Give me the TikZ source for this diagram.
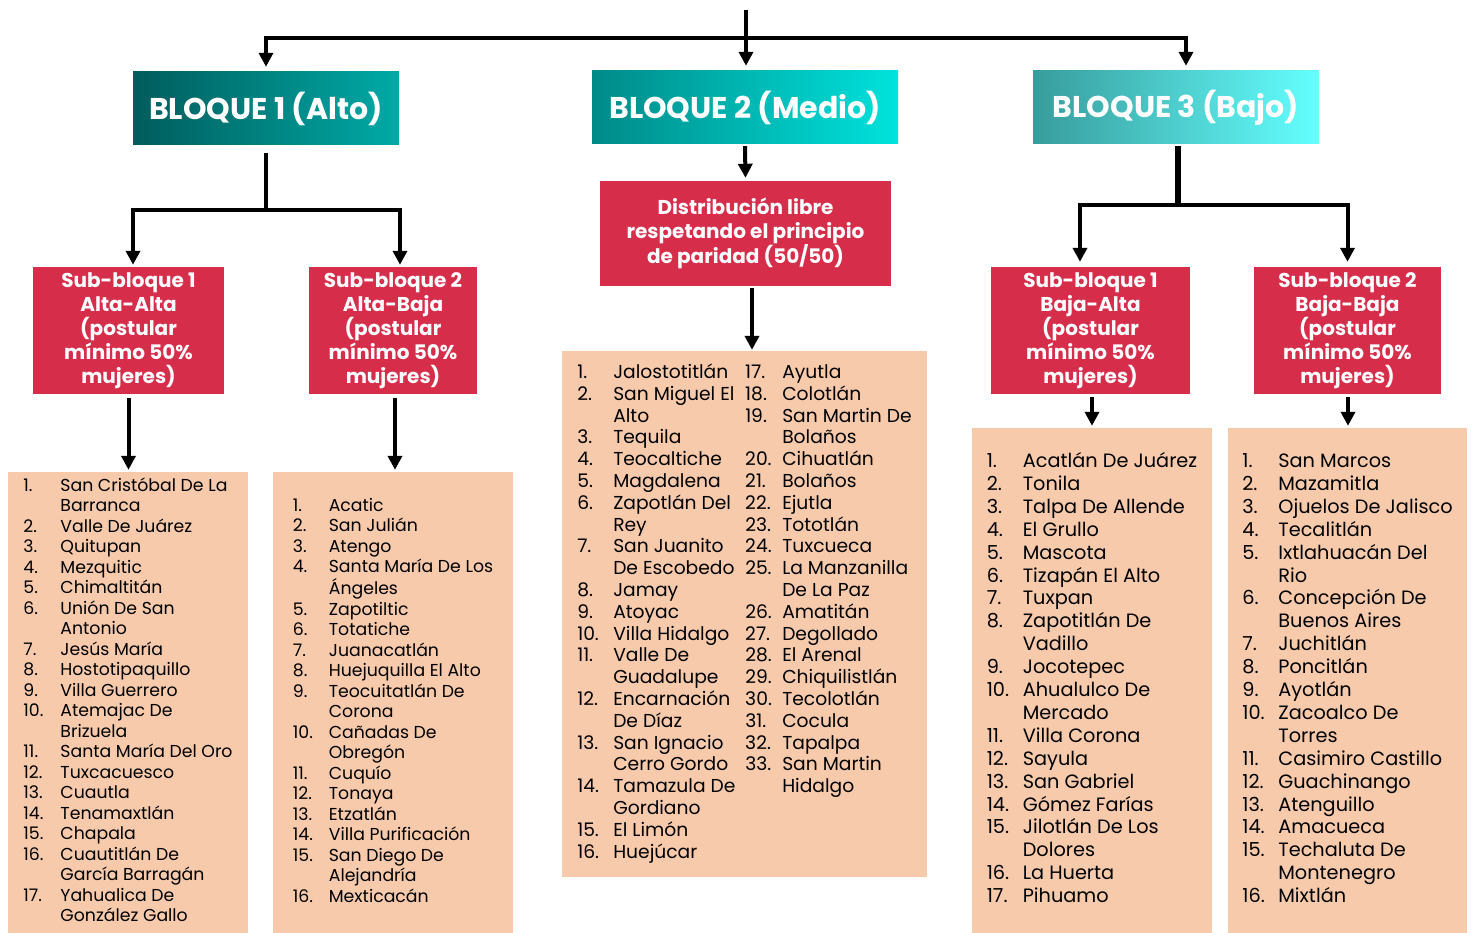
\documentclass[tikz,border=0pt]{standalone}
\usepackage{fontspec}
\setmainfont{Poppins}
\usepackage{xcolor}
\usepackage{array}
\usetikzlibrary{arrows.meta}
\definecolor{rojo}{RGB}{214,46,74}
\definecolor{durazno}{RGB}{247,202,172}
\definecolor{tealA}{RGB}{0,92,92}
\definecolor{tealB}{RGB}{0,170,166}
\definecolor{tealC}{RGB}{0,138,136}
\definecolor{tealD}{RGB}{0,226,220}
\definecolor{tealE}{RGB}{56,156,156}
\definecolor{tealF}{RGB}{100,255,255}
\tikzset{arrow/.style={draw,-{Triangle[width=14pt,length=14pt]},line width=4pt,#1}}
\tikzset{arrow/.default={black}}
\tikzset{linea/.style={draw,line width=4pt}}
\tikzset{bloque/.style={minimum height=73pt,inner sep=0pt,text=white,font={\fontsize{30pt}{34pt}\selectfont\bfseries}}}
\tikzset{sub/.style={fill=rojo,minimum height=127pt,inner sep=0pt,text=white,align=center,font={\fontsize{20pt}{24pt}\selectfont\bfseries}}}
\tikzset{lista/.style={fill=durazno,inner sep=0pt,font={\fontsize{17.3pt}{20.5pt}\selectfont}}}
\tikzset{listm/.style={lista,font={\fontsize{18.7pt}{21.8pt}\selectfont}}}
\tikzset{listb/.style={lista,font={\fontsize{19.3pt}{22.9pt}\selectfont}}}

\begin{document}
\begin{tikzpicture}[x=1pt,y=-1pt]
    \fill[white] (0,0) rectangle (1473,933);
    \useasboundingbox (0,0) rectangle (1473,933);
    % bloques
    \node[bloque,minimum width=266pt,left color=tealA,right color=tealB] (b1) at (266,108.5) {BLOQUE 1 (Alto)};
    \node[bloque,minimum width=306pt,left color=tealC,right color=tealD] (b2) at (745,107.5) {BLOQUE 2 (Medio)};
    \node[bloque,minimum width=286pt,left color=tealE,right color=tealF] (b3) at (1176,107.5) {BLOQUE 3 (Bajo)};
    \coordinate (entrada) at (746,10);
    \coordinate (j0) at (746,38);
    \path[linea] (entrada) -- (j0);
    \path[arrow,shorten >=5pt] (j0) -| (b1.north);
    \path[arrow,shorten >=5pt] (j0) -- (j0 |- b2.north);
    \path[arrow,shorten >=5pt] (j0) -| ([xshift=10pt]b3.north);
    % sub-bloques
    \node[sub,minimum width=191pt] (s11) at (128.5,330.5) {Sub-bloque 1\\Alta-Alta\\(postular\\mínimo 50\%\\mujeres)};
    \node[sub,minimum width=168pt] (s12) at (393,330.5) {Sub-bloque 2\\Alta-Baja\\(postular\\mínimo 50\%\\mujeres)};
    \node[sub,minimum width=291pt,minimum height=105pt] (d2) at (745.5,233.5) {Distribución libre\\respetando el principio\\de paridad (50/50)};
    \node[sub,minimum width=199pt] (s31) at (1090.5,330.5) {Sub-bloque 1\\Baja-Alta\\(postular\\mínimo 50\%\\mujeres)};
    \node[sub,minimum width=187pt] (s32) at (1347.5,330.5) {Sub-bloque 2\\Baja-Baja\\(postular\\mínimo 50\%\\mujeres)};
    \coordinate (j1) at (266,210);
    \coordinate (j3) at (1178,205);
    \path[linea,shorten <=8pt] (b1.south) -- (j1);
    \path[arrow,shorten >=2pt] (j1) -| ([xshift=4.5pt]s11.north);
    \path[arrow,shorten >=2pt] (j1) -| ([xshift=7pt]s12.north);
    \path[arrow,shorten <=2pt,shorten >=3pt] (b2.south) -- (d2.north);
    \path[linea,line width=6pt,shorten <=2pt] (b3.south -| j3) -- (j3);
    \path[arrow,shorten >=5pt] (j3) -| ([xshift=-10.5pt]s31.north);
    \path[arrow,shorten >=5pt] (j3) -| (s32.north);
    % listas
    \node[lista,minimum width=240pt,minimum height=461pt] (l11) at (128,702.5) {\begin{tabular}{@{}p{37pt}@{}l@{}}
        1. & San Cristóbal De La\\ & Barranca\\
        2. & Valle De Juárez\\
        3. & Quitupan\\
        4. & Mezquitic\\
        5. & Chimaltitán\\
        6. & Unión De San\\ & Antonio\\
        7. & Jesús María\\
        8. & Hostotipaquillo\\
        9. & Villa Guerrero\\
        10. & Atemajac De\\ & Brizuela\\
        11. & Santa María Del Oro\\
        12. & Tuxcacuesco\\
        13. & Cuautla\\
        14. & Tenamaxtlán\\
        15. & Chapala\\
        16. & Cuautitlán De\\ & García Barragán\\
        17. & Yahualica De\\ & González Gallo
    \end{tabular}};
    \node[lista,minimum width=240pt,minimum height=461pt] (l12) at (393,702.5) {\begin{tabular}{@{}p{36pt}@{}l@{}}
        1. & Acatic\\
        2. & San Julián\\
        3. & Atengo\\
        4. & Santa María De Los\\ & Ángeles\\
        5. & Zapotiltic\\
        6. & Totatiche\\
        7. & Juanacatlán\\
        8. & Huejuquilla El Alto\\
        9. & Teocuitatlán De\\ & Corona\\
        10. & Cañadas De\\ & Obregón\\
        11. & Cuquío\\
        12. & Tonaya\\
        13. & Etzatlán\\
        14. & Villa Purificación\\
        15. & San Diego De\\ & Alejandría\\
        16. & Mexticacán
    \end{tabular}};
    \node[listm,minimum width=365pt,minimum height=526pt] (l2) at (744.5,614) {\begin{tabular}{@{}p{36pt}@{}p{132pt}@{}p{37pt}@{}l@{}}
        1. & Jalostotitlán & 17. & Ayutla\\
        2. & San Miguel El & 18. & Colotlán\\
         & Alto & 19. & San Martin De\\
        3. & Tequila & & Bolaños\\
        4. & Teocaltiche & 20. & Cihuatlán\\
        5. & Magdalena & 21. & Bolaños\\
        6. & Zapotlán Del & 22. & Ejutla\\
         & Rey & 23. & Tototlán\\
        7. & San Juanito & 24. & Tuxcueca\\
         & De Escobedo & 25. & La Manzanilla\\
        8. & Jamay & & De La Paz\\
        9. & Atoyac & 26. & Amatitán\\
        10. & Villa Hidalgo & 27. & Degollado\\
        11. & Valle De & 28. & El Arenal\\
         & Guadalupe & 29. & Chiquilistlán\\
        12. & Encarnación & 30. & Tecolotlán\\
         & De Díaz & 31. & Cocula\\
        13. & San Ignacio & 32. & Tapalpa\\
         & Cerro Gordo & 33. & San Martin\\
        14. & Tamazula De & & Hidalgo\\
         & Gordiano & & \\
        15. & El Limón & & \\
        16. & Huejúcar & &
    \end{tabular}};
    \node[listb,minimum width=240pt,minimum height=505pt] (l31) at (1092,680.5) {\begin{tabular}{@{}p{36pt}@{}l@{}}
        1. & Acatlán De Juárez\\
        2. & Tonila\\
        3. & Talpa De Allende\\
        4. & El Grullo\\
        5. & Mascota\\
        6. & Tizapán El Alto\\
        7. & Tuxpan\\
        8. & Zapotitlán De\\ & Vadillo\\
        9. & Jocotepec\\
        10. & Ahualulco De\\ & Mercado\\
        11. & Villa Corona\\
        12. & Sayula\\
        13. & San Gabriel\\
        14. & Gómez Farías\\
        15. & Jilotlán De Los\\ & Dolores\\
        16. & La Huerta\\
        17. & Pihuamo
    \end{tabular}};
    \node[listb,minimum width=239pt,minimum height=505pt] (l32) at (1347.5,680.5) {\begin{tabular}{@{}p{36pt}@{}l@{}}
        1. & San Marcos\\
        2. & Mazamitla\\
        3. & Ojuelos De Jalisco\\
        4. & Tecalitlán\\
        5. & Ixtlahuacán Del\\ & Rio\\
        6. & Concepción De\\ & Buenos Aires\\
        7. & Juchitlán\\
        8. & Poncitlán\\
        9. & Ayotlán\\
        10. & Zacoalco De\\ & Torres\\
        11. & Casimiro Castillo\\
        12. & Guachinango\\
        13. & Atenguillo\\
        14. & Amacueca\\
        15. & Techaluta De\\ & Montenegro\\
        16. & Mixtlán
    \end{tabular}};
    \path[arrow,shorten <=4pt,shorten >=2pt] (s11.south) -- (s11.south |- l11.north);
    \path[arrow,shorten <=4pt,shorten >=2pt] ([xshift=2pt]s12.south) -- ([xshift=2pt]s12.south |- l12.north);
    \path[arrow,shorten <=2pt,shorten >=1pt] ([xshift=6.5pt]d2.south) -- ([xshift=6.5pt]d2.south |- l2.north);
    \path[arrow,shorten <=3pt,shorten >=2pt] ([xshift=1.5pt]s31.south) -- ([xshift=1.5pt]s31.south |- l31.north);
    \path[arrow,shorten <=3pt,shorten >=2pt] ([xshift=0.5pt]s32.south) -- ([xshift=0.5pt]s32.south |- l32.north);
\end{tikzpicture}
\end{document}
